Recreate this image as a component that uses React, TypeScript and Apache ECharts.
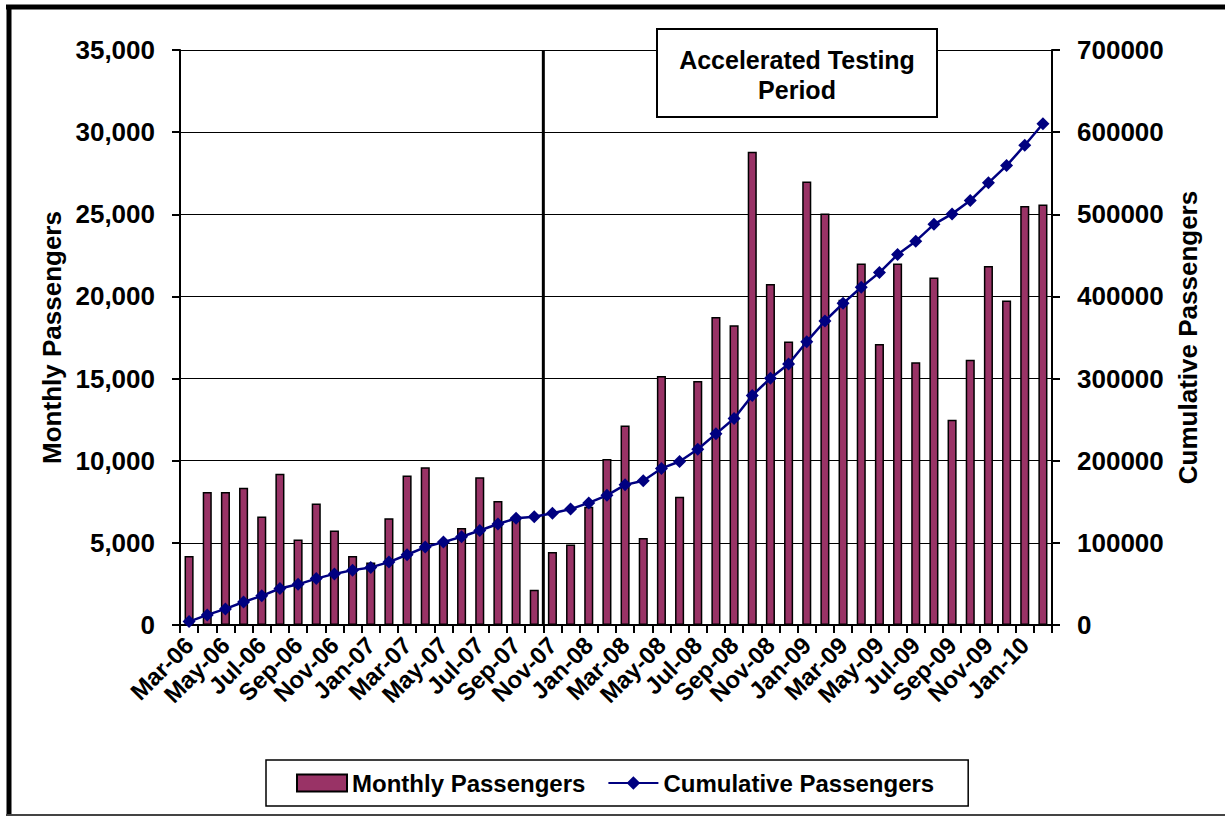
import React, { useEffect, useRef } from "react";
import * as echarts from "echarts";

const months: string[] = [
  "Mar-06", "Apr-06", "May-06", "Jun-06", "Jul-06", "Aug-06", "Sep-06", "Oct-06", "Nov-06", "Dec-06",
  "Jan-07", "Feb-07", "Mar-07", "Apr-07", "May-07", "Jun-07", "Jul-07", "Aug-07", "Sep-07", "Oct-07",
  "Nov-07", "Dec-07", "Jan-08", "Feb-08", "Mar-08", "Apr-08", "May-08", "Jun-08", "Jul-08", "Aug-08",
  "Sep-08", "Oct-08", "Nov-08", "Dec-08", "Jan-09", "Feb-09", "Mar-09", "Apr-09", "May-09", "Jun-09",
  "Jul-09", "Aug-09", "Sep-09", "Oct-09", "Nov-09", "Dec-09", "Jan-10", "Feb-10",
];

const monthlyPassengers: number[] = [
  4200, 8100, 8100, 8350, 6600, 9200, 5200, 7400, 5750, 4200,
  3800, 6500, 9100, 9600, 5000, 5900, 9000, 7550, 6500, 2150,
  4450, 4900, 7200, 10100, 12150, 5300, 15150, 7800, 14850, 18750,
  18250, 28800, 20750, 17250, 27000, 25050, 19800, 22000, 17100, 22000,
  16000, 21150, 12500, 16150, 21850, 19750, 25500, 25600,
];

const cumulativePassengers: number[] = [
  4200, 12300, 19600, 28000, 35500, 44400, 49500, 56500, 62200, 66800,
  70100, 76600, 85500, 94900, 100900, 107500, 115000, 122900, 129900, 131800,
  136000, 141100, 148600, 157900, 170600, 175700, 190600, 199000, 214000, 232700,
  251400, 279400, 300500, 317700, 344900, 370100, 391600, 411200, 429000, 450900,
  467300, 487800, 500500, 516800, 538300, 559300, 584100, 610300,
];

// boundary (in category units) where the accelerated testing period starts (between Oct-07 and Nov-07)
const testingStartBoundary = 20;
const annotationLines: string[] = ["Accelerated Testing", "Period"];

const FONT = "'Liberation Sans', Arial, sans-serif";

export default function App() {
  const ref = useRef<HTMLDivElement>(null);

  useEffect(() => {
    if (!ref.current) return;
    const chart = echarts.init(ref.current, undefined, { renderer: "svg" });
    const textBase = { fontFamily: FONT, fontWeight: "bold" as const, color: "#000" };

    chart.setOption({
      animation: false,
      backgroundColor: "#fff",
      grid: { left: 180, top: 50, right: 173, bottom: 191, containLabel: false },
      legend: {
        data: [
          { name: "Monthly Passengers", icon: "rect" },
          { name: "Cumulative Passengers" },
        ],
        left: 266,
        top: 760,
        padding: [11, 34, 11, 30],
        borderColor: "#000",
        borderWidth: 1.5,
        itemWidth: 50,
        itemHeight: 17,
        itemGap: 22,
        textStyle: { ...textBase, fontSize: 24 },
      },
      xAxis: [
        {
          type: "category",
          data: months,
          boundaryGap: true,
          axisLine: { lineStyle: { color: "#000", width: 2 } },
          axisTick: { show: true, interval: 0, length: 8, lineStyle: { color: "#000", width: 2 } },
          axisLabel: {
            ...textBase,
            fontSize: 24,
            interval: 1,
            rotate: 45,
            margin: 16,
          },
          splitLine: { show: false },
        },
        {
          type: "value",
          min: 0,
          max: months.length,
          show: false,
        },
      ],
      yAxis: [
        {
          type: "value",
          min: 0,
          max: 35000,
          interval: 5000,
          name: "Monthly Passengers",
          nameLocation: "middle",
          nameGap: 114,
          nameTextStyle: { ...textBase, fontSize: 26 },
          axisLine: { show: true, lineStyle: { color: "#000", width: 2 } },
          axisTick: { show: true, length: 8, lineStyle: { color: "#000", width: 2 } },
          axisLabel: {
            ...textBase,
            fontSize: 26,
            margin: 25,
            formatter: (v: number) => v.toLocaleString("en-US"),
          },
          splitLine: { show: true, lineStyle: { color: "#000", width: 1 } },
        },
        {
          type: "value",
          min: 0,
          max: 700000,
          interval: 100000,
          name: "Cumulative Passengers",
          nameLocation: "middle",
          nameGap: 106,
          nameTextStyle: { ...textBase, fontSize: 26 },
          axisLine: { show: true, lineStyle: { color: "#000", width: 2 } },
          axisTick: { show: true, length: 8, lineStyle: { color: "#000", width: 2 } },
          axisLabel: {
            ...textBase,
            fontSize: 26,
            margin: 25,
            formatter: (v: number) => String(v),
          },
          splitLine: { show: false },
        },
      ],
      series: [
        {
          name: "Monthly Passengers",
          type: "bar",
          data: monthlyPassengers,
          barWidth: "50%",
          itemStyle: { color: "#993366", borderColor: "#000", borderWidth: 1.5 },
          z: 2,
        },
        {
          name: "testing-start",
          type: "line",
          xAxisIndex: 1,
          yAxisIndex: 0,
          data: [
            [testingStartBoundary, 0],
            [testingStartBoundary, 35000],
          ],
          symbol: "none",
          lineStyle: { color: "#000", width: 3 },
          silent: true,
          z: 3,
        },
        {
          name: "Cumulative Passengers",
          type: "line",
          yAxisIndex: 1,
          data: cumulativePassengers,
          symbol: "diamond",
          symbolSize: 13,
          showAllSymbol: true,
          itemStyle: { color: "#000080" },
          lineStyle: { color: "#000080", width: 2.5 },
          z: 4,
        },
      ],
      graphic: [
        {
          type: "rect",
          shape: { x: 657, y: 29, width: 280, height: 88 },
          style: { fill: "#fff", stroke: "#000", lineWidth: 2 },
          z: 100,
        },
        {
          type: "text",
          x: 797,
          y: 60,
          style: {
            text: annotationLines[0],
            font: `bold 25px ${FONT}`,
            fill: "#000",
            textAlign: "center",
            textVerticalAlign: "middle",
          },
          z: 101,
        },
        {
          type: "text",
          x: 797,
          y: 90,
          style: {
            text: annotationLines[1],
            font: `bold 25px ${FONT}`,
            fill: "#000",
            textAlign: "center",
            textVerticalAlign: "middle",
          },
          z: 101,
        },
        {
          type: "line",
          shape: { x1: 6, y1: 7, x2: 1225, y2: 7 },
          style: { stroke: "#000", lineWidth: 5 },
          z: 100,
        },
        {
          type: "line",
          shape: { x1: 9, y1: 5, x2: 9, y2: 816 },
          style: { stroke: "#000", lineWidth: 5 },
          z: 100,
        },
        {
          type: "line",
          shape: { x1: 6, y1: 815, x2: 1225, y2: 815 },
          style: { stroke: "#444", lineWidth: 2 },
          z: 100,
        },
      ],
    });

    return () => chart.dispose();
  }, []);

  return (
    <div
      ref={ref}
      style={{ position: "absolute", left: 0, top: 0, width: 1225, height: 816 }}
    />
  );
}
